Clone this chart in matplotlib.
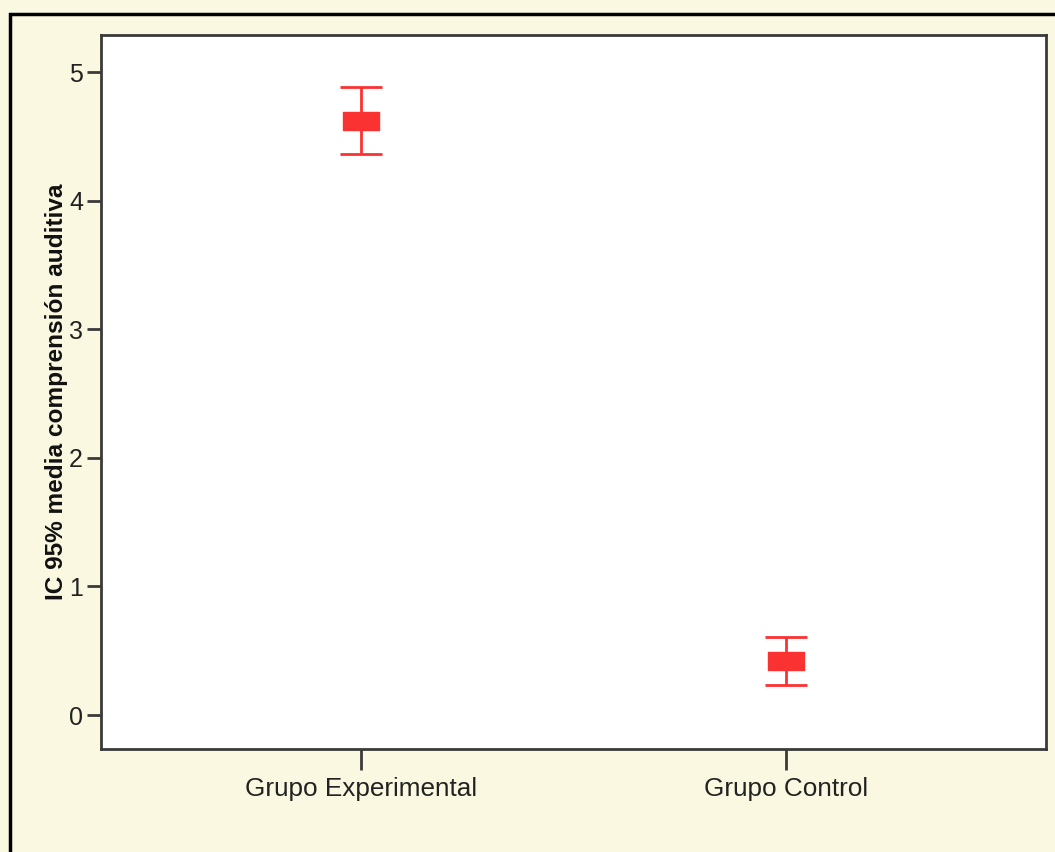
import matplotlib.pyplot as plt
from matplotlib.patches import Rectangle
from matplotlib.path import Path
import numpy as np

plt.rcParams['font.family'] = ['Liberation Sans', 'DejaVu Sans']

groups = ["Grupo Experimental", "Grupo Control"]
means = [4.62, 0.42]
ci_low = [4.36, 0.23]
ci_high = [4.88, 0.61]
yticks = [0, 1, 2, 3, 4, 5]

BG = '#faf8e0'
RED = '#fa3232'
AX = '#3a3a3a'

fig = plt.figure(figsize=(10.55, 8.52), dpi=100, facecolor=BG)
W, H = 1055, 852
ax = fig.add_axes([101 / W, 1 - 749 / H, (1046 - 101) / W, (749 - 35) / H])
ax.set_facecolor('white')

# outer frame of the output panel
fig.patches.append(Rectangle((10 / W, -0.05), 1.0, 1 - 14 / H + 0.05,
                             transform=fig.transFigure, fill=False,
                             edgecolor='black', linewidth=2.5))

x = np.arange(len(groups))
means = np.array(means)
yerr = [means - np.array(ci_low), np.array(ci_high) - means]

ax.errorbar(x, means, yerr=yerr, fmt='none', ecolor=RED, elinewidth=2,
            capsize=15, capthick=2)

# wide rectangular mean marker like SPSS
rect = Path([(-1, -0.5), (1, -0.5), (1, 0.5), (-1, 0.5), (-1, -0.5)],
            [Path.MOVETO, Path.LINETO, Path.LINETO, Path.LINETO, Path.CLOSEPOLY])
ax.plot(x, means, linestyle='none', marker=rect, markersize=26,
        markerfacecolor=RED, markeredgecolor=RED)

ax.set_xlim(-0.611, 1.611)
ax.set_ylim(-0.264, 5.288)
ax.set_xticks(x)
ax.set_xticklabels(groups, fontsize=18.8, color='#222222')
ax.set_yticks(yticks)
ax.set_yticklabels([str(v) for v in yticks], fontsize=18, color='#222222')
ax.tick_params(axis='x', length=15, width=2, color=AX, pad=5)
ax.tick_params(axis='y', length=10, width=2, color=AX, pad=3)
for s in ax.spines.values():
    s.set_linewidth(2)
    s.set_color(AX)

ax.set_ylabel("IC 95% media comprensión auditiva", fontsize=17.6,
              fontweight='bold', color='#111111', labelpad=1)

fig.savefig("out.png", dpi=100, facecolor=BG)
